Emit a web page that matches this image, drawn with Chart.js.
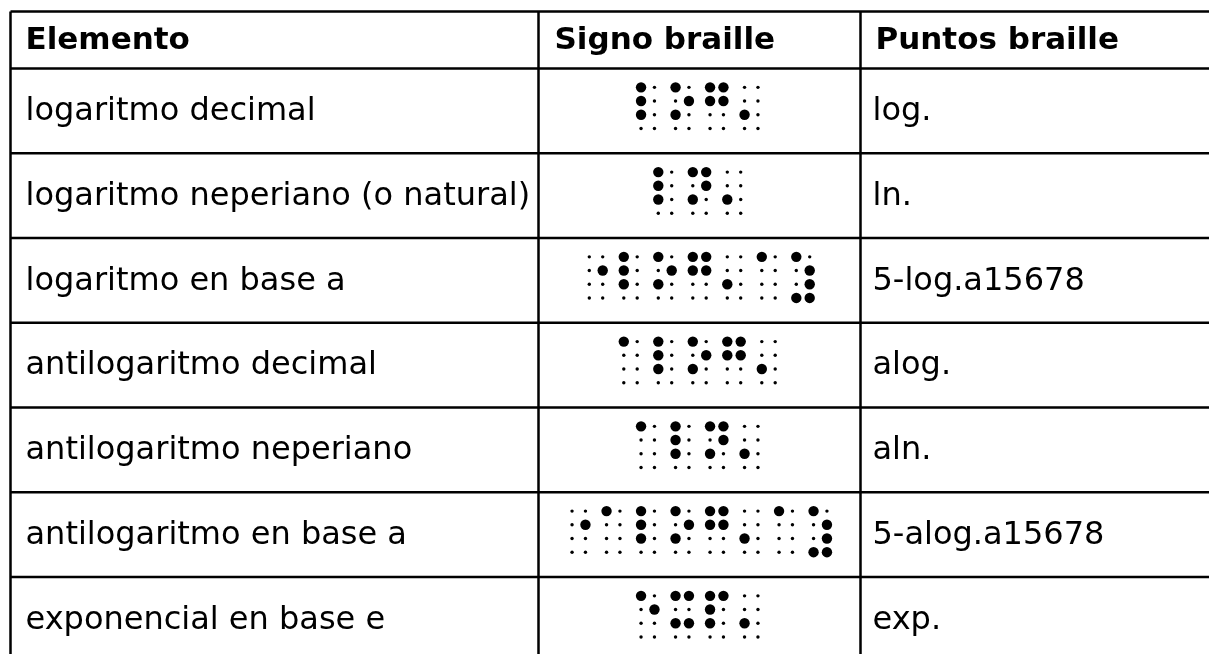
<!DOCTYPE html>
<html>
<head>
<meta charset="utf-8">
<script src="https://cdn.jsdelivr.net/npm/chart.js@4/dist/chart.umd.min.js"></script>
<style>
  html, body { margin: 0; padding: 0; background: #fff; }
  #table { display: block; }
</style>
</head>
<body>
<canvas id="table" width="1209" height="654"></canvas>
<script>
const headers = ["Elemento", "Signo braille", "Puntos braille"];

const elementos = [
  "logaritmo decimal",
  "logaritmo neperiano (o natural)",
  "logaritmo en base a",
  "antilogaritmo decimal",
  "antilogaritmo neperiano",
  "antilogaritmo en base a",
  "exponencial en base e",
];

const puntos = [
  "log.",
  "ln.",
  "5-log.a15678",
  "alog.",
  "aln.",
  "5-alog.a15678",
  "exp.",
];

// raised dots of each 8-dot braille cell, one list per cell
const signos = [
  [[1, 2, 3], [1, 3, 5], [1, 2, 4, 5], [3]],
  [[1, 2, 3], [1, 3, 4, 5], [3]],
  [[5], [1, 2, 3], [1, 3, 5], [1, 2, 4, 5], [3], [1], [1, 5, 6, 7, 8]],
  [[1], [1, 2, 3], [1, 3, 5], [1, 2, 4, 5], [3]],
  [[1], [1, 2, 3], [1, 3, 4, 5], [3]],
  [[5], [1], [1, 2, 3], [1, 3, 5], [1, 2, 4, 5], [3], [1], [1, 5, 6, 7, 8]],
  [[1, 5], [1, 3, 4, 6], [1, 2, 3, 4], [3]],
];

const W = 1209, H = 654;
const colX = [10.5, 538.5, 860.5, 1215];
const topY = 11.5;
const headBottom = 68.5;
const rowH = 84.75;
const FONT = "'DejaVu Sans', Verdana, sans-serif";

const CELL_PITCH = 34.5;
const DOT_DX = 13.4;
const DOT_DY = 13.7;

function rowCenter(i) {
  return headBottom + rowH * (i + 0.5);
}

// dot number -> [column, row] inside the cell
function dotPos(d) {
  if (d <= 3) return [0, d - 1];
  if (d <= 6) return [1, d - 4];
  return [d - 7, 3];
}

const raised = [];
const flat = [];
signos.forEach((cells, r) => {
  const cx = (colX[1] + colX[2]) / 2;
  const cy = rowCenter(r) - 3;
  cells.forEach((dots, c) => {
    const cellX = cx + (c - (cells.length - 1) / 2) * CELL_PITCH;
    for (let d = 1; d <= 8; d++) {
      const [col, row] = dotPos(d);
      const pt = {
        x: cellX + (col - 0.5) * DOT_DX,
        y: cy + (row - 1.5) * DOT_DY,
      };
      if (dots.includes(d)) raised.push(pt);
      else flat.push(pt);
    }
  });
});

const tablePlugin = {
  id: "tableGrid",
  beforeDatasetsDraw(chart) {
    const { ctx, scales } = chart;
    const px = (v) => scales.x.getPixelForValue(v);
    const py = (v) => scales.y.getPixelForValue(v);
    ctx.save();
    ctx.fillStyle = "#fff";
    ctx.fillRect(0, 0, W, H);

    // grid
    ctx.strokeStyle = "#000";
    ctx.lineWidth = 2.5;
    ctx.beginPath();
    const ys = [topY, headBottom];
    for (let i = 1; i <= elementos.length; i++) ys.push(headBottom + rowH * i);
    ys.forEach((y) => {
      ctx.moveTo(px(colX[0]), py(y));
      ctx.lineTo(px(W + 10), py(y));
    });
    colX.slice(0, 3).forEach((x) => {
      ctx.moveTo(px(x), py(topY));
      ctx.lineTo(px(x), py(H + 10));
    });
    ctx.stroke();

    // text
    ctx.fillStyle = "#000";
    ctx.textBaseline = "middle";
    ctx.textAlign = "left";
    const padL = [15, 16, 12];
    ctx.font = "bold 31px " + FONT;
    headers.forEach((h, i) => {
      ctx.fillText(h, px(colX[i] + padL[i] + (i === 2 ? 3 : 0)), py((topY + headBottom) / 2 + 1));
    });
    ctx.font = "32px " + FONT;
    elementos.forEach((t, i) => {
      ctx.fillText(t, px(colX[0] + padL[0]), py(rowCenter(i) + 1));
      ctx.fillText(puntos[i], px(colX[2] + padL[2]), py(rowCenter(i) + 1));
    });
    ctx.restore();
  },
};

new Chart(document.getElementById("table"), {
  type: "scatter",
  data: {
    datasets: [
      {
        label: "raised",
        data: raised,
        pointRadius: 5.2,
        pointBackgroundColor: "#000",
        pointBorderWidth: 0,
      },
      {
        label: "flat",
        data: flat,
        pointRadius: 1.7,
        pointBackgroundColor: "#000",
        pointBorderWidth: 0,
      },
    ],
  },
  options: {
    responsive: false,
    devicePixelRatio: 1,
    animation: false,
    layout: { padding: 0, autoPadding: false },
    scales: {
      x: { type: "linear", min: 0, max: W, display: false },
      y: { type: "linear", min: 0, max: H, reverse: true, display: false },
    },
    plugins: { legend: { display: false }, tooltip: { enabled: false } },
  },
  plugins: [tablePlugin],
});
</script>
</body>
</html>
